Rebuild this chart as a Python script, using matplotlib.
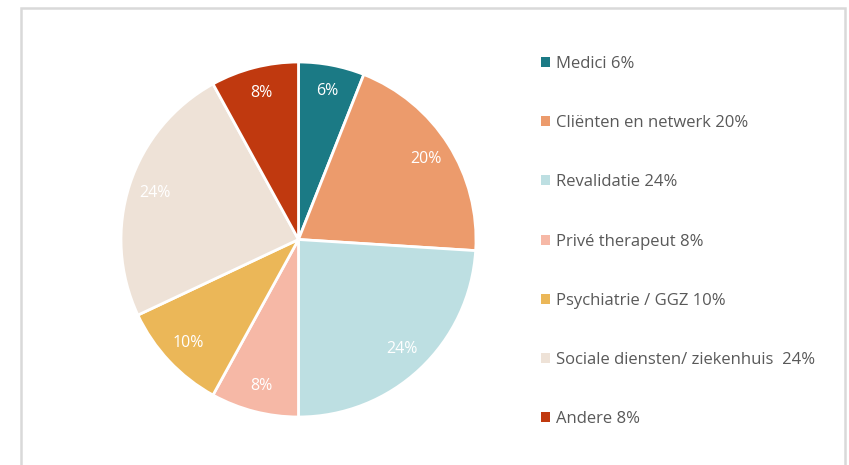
import matplotlib.pyplot as plt
from matplotlib.patches import Rectangle, Patch

labels = ["Medici", "Cliënten en netwerk", "Revalidatie", "Privé therapeut",
          "Psychiatrie / GGZ", "Sociale diensten/ ziekenhuis ", "Andere"]
values = [6, 20, 24, 8, 10, 24, 8]
colors = ["#1b7a85", "#ec9b6c", "#bddfe2", "#f6b8a6", "#ebb758", "#eee2d7", "#c0390f"]

W, H = 849, 465
fig = plt.figure(figsize=(W / 100, H / 100), dpi=100)
plt.rcParams['font.family'] = ['Open Sans', 'DejaVu Sans']

# light frame (bottom edge falls outside the picture)
fig.patches.append(Rectangle((21 / W, -0.1), (845 - 21) / W, 1.1 - 8 / H,
                             transform=fig.transFigure, fill=False,
                             edgecolor="#d9d9d9", lw=1.8))

cx, cy, r = 298.5, 239.5, 177.5
ax = fig.add_axes([(cx - r) / W, (H - cy - r) / H, 2 * r / W, 2 * r / H])
wedges, texts, autotexts = ax.pie(values, colors=colors, startangle=90, counterclock=False,
                                  autopct="%d%%", pctdistance=0.85,
                                  wedgeprops=dict(edgecolor="white", linewidth=2),
                                  textprops=dict(color="white", fontsize=11.5))
ax.set_xlim(-1, 1)
ax.set_ylim(-1, 1)
ax.set_aspect("equal")

handles = [Patch(facecolor=c, edgecolor="none") for c in colors]
leg_labels = [f"{l} {v}%" for l, v in zip(labels, values)]
fig.legend(handles, leg_labels, loc="upper left", bbox_to_anchor=(526 / W, 1 - 41 / H),
           frameon=False, fontsize=12, labelcolor="#595959", handlelength=0.55,
           handleheight=0.55, handletextpad=0.35, labelspacing=2.59)

fig.savefig("out.png", dpi=100)
